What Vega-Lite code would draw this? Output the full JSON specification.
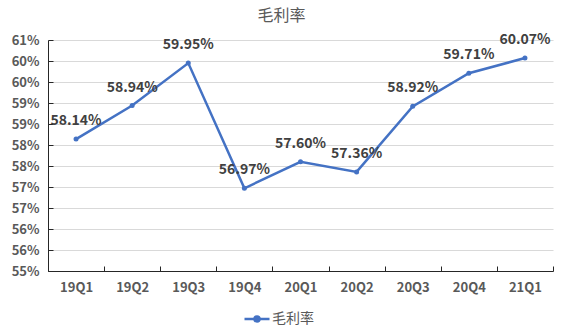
{
  "$schema": "https://vega.github.io/schema/vega-lite/v6.json",
  "width": 505,
  "height": 231,
  "autosize": {"type": "none"},
  "padding": {"left": 48, "top": 40, "right": 10, "bottom": 62},
  "background": "white",
  "config": {"view": {"stroke": null}, "font": "Noto Sans CJK SC"},
  "title": {"text": "毛利率", "fontSize": 16, "fontWeight": "normal", "color": "#595959", "anchor": "middle", "frame": "group", "dx": -19, "offset": 9},
  "data": {"values": [
    {"quarter": "19Q1", "rate": 0.5814, "series": "毛利率"},
    {"quarter": "19Q2", "rate": 0.5894, "series": "毛利率"},
    {"quarter": "19Q3", "rate": 0.5995, "series": "毛利率"},
    {"quarter": "19Q4", "rate": 0.5697, "series": "毛利率"},
    {"quarter": "20Q1", "rate": 0.5760, "series": "毛利率"},
    {"quarter": "20Q2", "rate": 0.5736, "series": "毛利率"},
    {"quarter": "20Q3", "rate": 0.5892, "series": "毛利率"},
    {"quarter": "20Q4", "rate": 0.5971, "series": "毛利率"},
    {"quarter": "21Q1", "rate": 0.6007, "series": "毛利率"}
  ]},
  "encoding": {
    "x": {
      "field": "quarter", "type": "ordinal", "sort": null,
      "scale": {"type": "band", "paddingInner": 0, "paddingOuter": 0},
      "axis": {"title": null, "labelAngle": 0, "labelFontSize": 13, "labelFontWeight": "bold", "labelColor": "#595959", "domainColor": "#262626", "domainWidth": 1, "tickColor": "#262626", "tickSize": -5, "tickBand": "extent", "labelPadding": 15, "grid": false}
    },
    "y": {
      "field": "rate", "type": "quantitative",
      "scale": {"domain": [0.55, 0.605], "nice": false, "zero": false},
      "axis": {"title": null, "values": [0.55, 0.555, 0.56, 0.565, 0.57, 0.575, 0.58, 0.585, 0.59, 0.595, 0.6, 0.605], "labelExpr": "round(datum.value*100+0.000001)+'%'", "labelFontSize": 13, "labelFontWeight": "bold", "labelColor": "#595959", "domainColor": "#262626", "domainWidth": 1, "tickColor": "#262626", "tickSize": -5, "labelPadding": 14, "grid": true, "gridColor": "#D9D9D9", "gridWidth": 1}
    }
  },
  "layer": [
    {
      "mark": {"type": "line", "strokeWidth": 2.5, "point": {"size": 25, "filled": true}},
      "encoding": {
        "color": {
          "field": "series", "type": "nominal",
          "scale": {"range": ["#4472C4"]},
          "legend": {"title": null, "orient": "none", "legendX": 195, "legendY": 265, "padding": 0,
            "symbolType": "M-1,0L1,0M-0.2,0A0.2,0.2,0,1,0,0.2,0A0.2,0.2,0,1,0,-0.2,0",
            "symbolSize": 625, "symbolStrokeWidth": 2.5, "symbolStrokeColor": "#4472C4", "symbolFillColor": "#4472C4",
            "labelFontSize": 14, "labelColor": "#595959", "labelOffset": 1}
        }
      }
    },
    {
      "mark": {"type": "text", "dy": -18, "fontSize": 14, "fontWeight": "bold", "color": "#404040"},
      "encoding": {"text": {"field": "rate", "type": "quantitative", "format": ".2%"}}
    }
  ]
}
